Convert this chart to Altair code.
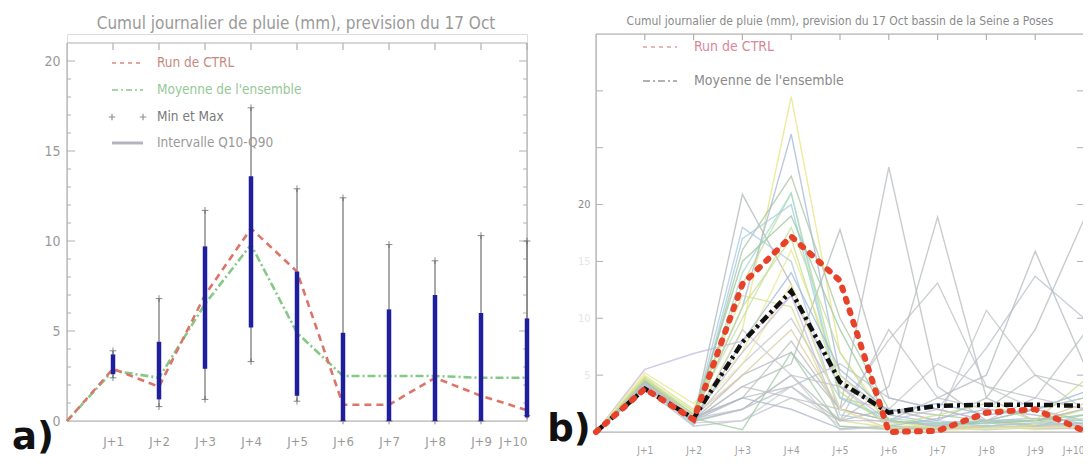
import json
import altair as alt
import pandas as pd

# ---------------- panel a) data ----------------
a_days = [0, 1, 2, 3, 4, 5, 6, 7, 8, 9, 10]
a_ctrl = [0, 2.9, 1.9, 7.0, 10.7, 8.3, 0.9, 0.9, 2.4, 1.4, 0.6]
a_mean = [0, 2.8, 2.4, 6.5, 9.8, 4.9, 2.5, 2.5, 2.5, 2.4, 2.4]
a_bar_days = [1, 2, 3, 4, 5, 6, 7, 8, 9, 10]
a_min = [2.4, 0.8, 1.2, 3.3, 1.1, 0.0, 0.0, 0.0, 0.0, 0.3]
a_max = [3.9, 6.8, 11.7, 17.4, 12.9, 12.4, 9.8, 8.9, 10.3, 10.0]
a_q10 = [2.6, 1.2, 2.9, 5.2, 1.4, 0.0, 0.0, 0.0, 0.0, 0.2]
a_q90 = [3.7, 4.4, 9.7, 13.6, 8.3, 4.9, 6.2, 7.0, 6.0, 5.7]
tick_labels = ["J+1", "J+2", "J+3", "J+4", "J+5", "J+6", "J+7", "J+8", "J+9", "J+10"]
a_title = "Cumul journalier de pluie (mm), prevision du 17 Oct"
a_legend = ["Run de CTRL", "Moyenne de l'ensemble", "Min et Max", "Intervalle Q10-Q90"]

# ---------------- panel b) data ----------------
b_days = [0, 1, 2, 3, 4, 5, 6, 7, 8, 9, 10]
b_ctrl = [0, 3.8, 1.1, 13.0, 17.2, 13.3, 0.0, 0.1, 1.7, 2.0, 0.1]
b_mean = [0, 3.8, 1.2, 7.9, 12.4, 4.4, 1.7, 2.3, 2.4, 2.4, 2.3]
b_members = [
    [0, 4.6, 1.0, 9.0, 29.5, 7.0, 1.0, 0.3, 0.8, 0.5, 0.4],
    [0, 4.2, 1.3, 11.0, 26.2, 5.0, 1.5, 0.8, 1.0, 1.2, 1.0],
    [0, 4.0, 1.1, 20.9, 13.0, 2.0, 1.0, 0.5, 1.0, 0.6, 0.8],
    [0, 4.4, 0.8, 16.0, 22.5, 10.0, 2.0, 1.5, 1.0, 1.0, 2.0],
    [0, 4.8, 1.5, 13.0, 21.0, 4.0, 0.5, 0.5, 0.4, 0.5, 0.6],
    [0, 4.1, 0.6, 17.0, 20.0, 3.0, 1.0, 0.6, 0.8, 0.5, 1.5],
    [0, 3.9, 1.0, 4.0, 6.0, 17.8, 3.0, 2.0, 1.0, 2.0, 1.0],
    [0, 4.3, 1.2, 3.0, 8.0, 2.0, 23.3, 4.0, 1.0, 1.0, 0.5],
    [0, 4.0, 0.9, 2.0, 5.0, 1.0, 4.0, 18.9, 3.0, 1.0, 2.0],
    [0, 4.2, 1.0, 5.0, 7.0, 2.0, 1.0, 3.0, 5.0, 15.9, 6.0],
    [0, 4.5, 1.3, 3.0, 4.0, 1.0, 2.0, 1.0, 3.0, 9.0, 18.7],
    [0, 3.8, 0.5, 1.0, 3.0, 2.0, 8.1, 13.1, 4.0, 3.0, 8.6],
    [0, 4.1, 1.1, 6.0, 10.0, 3.0, 2.0, 1.0, 10.7, 5.0, 2.0],
    [0, 4.0, 1.0, 2.0, 4.0, 6.0, 3.0, 2.0, 7.4, 13.7, 10.0],
    [0, 5.5, 6.9, 8.0, 12.0, 4.0, 1.0, 0.5, 1.0, 0.5, 0.5],
    [0, 5.2, 2.5, 7.0, 16.0, 5.0, 1.0, 0.3, 0.6, 0.2, 0.4],
    [0, 4.7, 1.8, 10.0, 18.0, 7.0, 0.5, 0.3, 0.5, 0.8, 1.2],
    [0, 4.3, 0.7, 14.0, 21.0, 3.0, 1.2, 0.8, 1.0, 1.0, 1.0],
    [0, 4.6, 1.4, 5.0, 9.0, 2.0, 0.3, 0.2, 0.5, 1.0, 2.5],
    [0, 3.7, 0.8, 1.0, 4.0, 0.5, 0.2, 0.4, 0.6, 0.3, 0.3],
    [0, 4.0, 1.0, 3.0, 2.0, 0.3, 0.5, 1.2, 2.0, 1.5, 0.7],
    [0, 4.4, 1.2, 0.2, 7.0, 0.5, 0.3, 0.3, 1.0, 2.0, 3.0],
    [0, 4.9, 2.0, 12.0, 11.0, 1.0, 0.4, 0.4, 0.3, 0.6, 2.0],
    [0, 4.1, 0.9, 9.0, 5.0, 0.2, 0.5, 0.3, 0.2, 0.4, 0.3],
    [0, 4.3, 1.1, 18.0, 15.0, 1.5, 0.8, 1.0, 0.5, 0.8, 0.6],
    [0, 4.5, 1.6, 15.0, 19.0, 9.0, 1.0, 0.7, 0.8, 1.0, 1.5],
    [0, 4.0, 1.0, 4.0, 3.0, 1.0, 9.0, 3.0, 2.0, 5.0, 4.0],
    [0, 4.2, 1.2, 2.0, 5.0, 4.0, 2.0, 6.0, 4.0, 2.0, 3.0],
    [0, 5.0, 1.9, 6.0, 13.0, 2.0, 0.2, 0.1, 0.3, 0.4, 0.5],
    [0, 4.3, 1.3, 7.0, 12.0, 1.0, 1.0, 2.0, 1.0, 3.0, 2.0],
    [0, 4.6, 1.5, 11.0, 17.0, 3.5, 0.6, 1.5, 2.5, 1.0, 4.5],
    [0, 4.0, 0.9, 8.0, 14.0, 5.5, 1.8, 2.5, 1.5, 2.0, 3.5],
]
member_colors = [
    "#e6e47e", "#9fb6d6", "#b0b6b8", "#a9c4a4", "#bcdb98", "#a3cadf",
    "#b3b8ba", "#b6bbbd", "#b8bcbe", "#b3b8bc", "#b5b9bb", "#bcc0c2",
    "#c0c4c6", "#b4bfcc", "#c4b6dc", "#e8e88e", "#c2de9e", "#a2d8d4",
    "#dccaa0", "#c8ccce", "#aab6ca", "#9ecba4", "#d4e08a", "#c6c9cb",
    "#a8c8e0", "#96c89e", "#bcc0c4", "#c0c3c5", "#eee8a0", "#c4bcd4",
    "#c8de8c", "#9cb8d8",
]
b_title = "Cumul journalier de pluie (mm), prevision du 17 Oct bassin de la Seine a Poses"
b_legend = ["Run de CTRL", "Moyenne de l'ensemble"]

NARROW = "Liberation Sans Narrow, DejaVu Sans Condensed, Roboto Condensed, sans-serif"
label_expr = json.dumps(tick_labels) + "[datum.value - 1]"

# ---------------- panel a) ----------------
WA, HA = 460, 387
sxa = alt.Scale(domain=[0, 10], nice=False, zero=False)
sya = alt.Scale(domain=[0, 21.5], nice=False, zero=True)
axa = alt.Axis(values=a_bar_days, labelExpr=label_expr, ticks=False, tickSize=0, domain=False,
               grid=False, labelFont=NARROW, labelFontSize=13, labelColor="#9a9a9a",
               labelPadding=14, title=None)
aya = alt.Axis(values=[0, 5, 10, 15, 20], ticks=False, tickSize=0, domain=False, grid=False,
               labelFont=NARROW, labelFontSize=14, labelColor="#9a9a9a", labelPadding=7, title=None)


def XA(f):
    return alt.X(f, type="quantitative", scale=sxa, axis=axa)


def YA(f):
    return alt.Y(f, type="quantitative", scale=sya, axis=aya)


lines_a = pd.DataFrame({"x": a_days, "ctrl": a_ctrl, "mean": a_mean})
bars_a = pd.DataFrame({"x": a_bar_days, "mn": a_min, "mx": a_max, "q10": a_q10, "q90": a_q90})

frame_col = "#b0b0b0"
fa_h = pd.DataFrame({"x": [0, 0], "x2": [10, 10], "y": [0, 21]})
fa_v = pd.DataFrame({"x": [0, 10], "y": [0, 0], "y2": [21, 21]})
a_minor = [1, 2, 3, 4, 6, 7, 8, 9, 11, 12, 13, 14, 16, 17, 18, 19]
a_major = [5, 10, 15, 20]

layers_a = [
    alt.Chart(fa_h).mark_rule(color=frame_col, strokeWidth=1.2).encode(
        x=XA("x"), x2="x2", y=YA("y")),
    alt.Chart(fa_v).mark_rule(color=frame_col, strokeWidth=1.2).encode(
        x=XA("x"), y=YA("y"), y2="y2"),
    alt.Chart(pd.DataFrame({"x": a_bar_days, "y": [21] * 10})).mark_rule(
        color=frame_col, strokeWidth=1.2).encode(x=XA("x"), y=YA("y"), y2=alt.value(16)),
    alt.Chart(pd.DataFrame({"y": a_minor})).mark_rule(color=frame_col).encode(
        y=YA("y"), x=alt.value(0), x2=alt.value(4)),
    alt.Chart(pd.DataFrame({"y": a_major})).mark_rule(color=frame_col).encode(
        y=YA("y"), x=alt.value(0), x2=alt.value(8)),
    alt.Chart(pd.DataFrame({"y": a_minor})).mark_rule(color=frame_col).encode(
        y=YA("y"), x=alt.value(WA - 4), x2=alt.value(WA)),
    alt.Chart(pd.DataFrame({"y": a_major})).mark_rule(color=frame_col).encode(
        y=YA("y"), x=alt.value(WA - 8), x2=alt.value(WA)),
    # min / max whiskers
    alt.Chart(bars_a).mark_rule(color="#555555", strokeWidth=1).encode(
        x=XA("x"), y=YA("mn"), y2="mx"),
    alt.Chart(bars_a).transform_fold(["mn", "mx"], as_=["k", "v"]).mark_point(
        shape="M -1 0 L 1 0 M 0 -1 L 0 1", filled=False, size=45, color="#555555",
        strokeWidth=1).encode(x=XA("x"), y=YA("v:Q")),
    # lines
    alt.Chart(lines_a).mark_line(color="#86c986", strokeWidth=2.6,
                                 strokeDash=[8, 3, 2, 3]).encode(x=XA("x"), y=YA("mean")),
    alt.Chart(lines_a).mark_line(color="#de7468", strokeWidth=2.6,
                                 strokeDash=[7, 5]).encode(x=XA("x"), y=YA("ctrl")),
    # Q10-Q90 bars
    alt.Chart(bars_a).mark_rule(color="#1f1f9e", strokeWidth=4.5).encode(
        x=XA("x"), y=YA("q10"), y2="q90"),
]

# legend a
leg_y = [29, 56, 83, 109]
leg_col = ["#c48a80", "#96c896", "#7a7a7a", "#9a9a9a"]
one = pd.DataFrame({"k": [0]})
layers_a += [
    alt.Chart(one).mark_rule(color="#e6a59c", strokeWidth=2, strokeDash=[4, 4]).encode(
        x=alt.value(45), x2=alt.value(76), y=alt.value(leg_y[0])),
    alt.Chart(one).mark_rule(color="#a8d4a8", strokeWidth=2, strokeDash=[6, 3, 2, 3]).encode(
        x=alt.value(45), x2=alt.value(76), y=alt.value(leg_y[1])),
    alt.Chart(pd.DataFrame({"px": [45, 76]})).mark_point(
        shape="M -1 0 L 1 0 M 0 -1 L 0 1", filled=False, size=45, color="#666666",
        strokeWidth=1.2).encode(x=alt.X("px:Q", scale=None), y=alt.value(leg_y[2])),
    alt.Chart(one).mark_rule(color="#b4b4c0", strokeWidth=3).encode(
        x=alt.value(45), x2=alt.value(76), y=alt.value(leg_y[3])),
]
for lab, yy, cc in zip(a_legend, leg_y, leg_col):
    layers_a.append(
        alt.Chart(pd.DataFrame({"t": [lab]})).mark_text(
            align="left", baseline="middle", font=NARROW, fontSize=13.5, color=cc).encode(
            text="t:N", x=alt.value(90), y=alt.value(yy)))

layers_a += [
    alt.Chart(pd.DataFrame({"t": [a_title]})).mark_text(
        align="center", baseline="middle", font=NARROW, fontSize=17, color="#9a9a9a").encode(
        text="t:N", x=alt.value(229), y=alt.value(-10)),
    alt.Chart(pd.DataFrame({"t": ["a)"]})).mark_text(
        align="center", baseline="middle", font="DejaVu Sans", fontSize=37,
        fontWeight="bold", color="#111111").encode(
        text="t:N", x=alt.value(-34), y=alt.value(404)),
]

panel_a = alt.layer(*layers_a).properties(width=WA, height=HA)

# ---------------- panel b) ----------------
WB, HB = 488, 398
sxb = alt.Scale(domain=[0, 10], nice=False, zero=False)
syb = alt.Scale(domain=[0, 35], nice=False, zero=True)
axb = alt.Axis(values=a_bar_days, labelExpr=label_expr, ticks=False, tickSize=0, domain=False,
               grid=False, labelFont=NARROW, labelFontSize=10, labelColor="#a0a0a0",
               labelPadding=13, title=None)
ayb = alt.Axis(values=[5, 10, 15, 20], ticks=False, tickSize=0, domain=False, grid=False,
               labelFont=NARROW, labelFontSize=11,
               labelColor={"expr": "datum.value == 20 ? '#8a8a8a' : '#e6e6e6'"},
               labelPadding=6, title=None)


def XB(f):
    return alt.X(f, type="quantitative", scale=sxb, axis=axb)


def YB(f):
    return alt.Y(f, type="quantitative", scale=syb, axis=ayb)


rows = []
for i, m in enumerate(b_members):
    for d, v in zip(b_days, m):
        rows.append({"x": d, "y": v, "member": f"m{i:02d}"})
members_df = pd.DataFrame(rows)
lines_b = pd.DataFrame({"x": b_days, "ctrl": b_ctrl, "mean": b_mean})

fb_h = pd.DataFrame({"x": [0, 0], "x2": [10, 10], "y": [0, 35]})
fb_v = pd.DataFrame({"x": [0, 10], "y": [0, 0], "y2": [35, 35]})
b_major = [5, 10, 15, 20, 25, 30]

layers_b = [
    alt.Chart(members_df).mark_line(strokeWidth=1.4, opacity=0.75).encode(
        x=XB("x"), y=YB("y"),
        color=alt.Color("member:N", scale=alt.Scale(
            domain=[f"m{i:02d}" for i in range(len(b_members))], range=member_colors),
            legend=None)),
    alt.Chart(fb_h).mark_rule(color=frame_col, strokeWidth=1.2).encode(
        x=XB("x"), x2="x2", y=YB("y")),
    alt.Chart(fb_v).mark_rule(color=frame_col, strokeWidth=1.2).encode(
        x=XB("x"), y=YB("y"), y2="y2"),
    alt.Chart(pd.DataFrame({"x": a_bar_days, "y": [35] * 10})).mark_rule(
        color=frame_col, strokeWidth=1.2).encode(x=XB("x"), y=YB("y"), y2=alt.value(6)),
    alt.Chart(pd.DataFrame({"y": b_major})).mark_rule(color=frame_col).encode(
        y=YB("y"), x=alt.value(0), x2=alt.value(7)),
    alt.Chart(pd.DataFrame({"y": b_major})).mark_rule(color=frame_col).encode(
        y=YB("y"), x=alt.value(WB - 7), x2=alt.value(WB)),
    alt.Chart(lines_b).mark_line(color="#111111", strokeWidth=4.5,
                                 strokeDash=[9, 4, 3, 4]).encode(x=XB("x"), y=YB("mean")),
    alt.Chart(lines_b).mark_line(color="#e8412a", strokeWidth=6, strokeCap="round",
                                 strokeDash=[3, 9]).encode(x=XB("x"), y=YB("ctrl")),
    # legend b
    alt.Chart(one).mark_rule(color="#e2a0a0", strokeWidth=1.5, strokeDash=[4, 4]).encode(
        x=alt.value(47), x2=alt.value(81), y=alt.value(13)),
    alt.Chart(one).mark_rule(color="#999999", strokeWidth=1.5, strokeDash=[7, 3, 2, 3]).encode(
        x=alt.value(47), x2=alt.value(81), y=alt.value(47)),
    alt.Chart(pd.DataFrame({"t": [b_legend[0]]})).mark_text(
        align="left", baseline="middle", font=NARROW, fontSize=14, color="#d88898").encode(
        text="t:N", x=alt.value(98), y=alt.value(13)),
    alt.Chart(pd.DataFrame({"t": [b_legend[1]]})).mark_text(
        align="left", baseline="middle", font=NARROW, fontSize=14, color="#8a8a8a").encode(
        text="t:N", x=alt.value(98), y=alt.value(47)),
    alt.Chart(pd.DataFrame({"t": [b_title]})).mark_text(
        align="center", baseline="middle", font=NARROW, fontSize=12, color="#8a8a8a").encode(
        text="t:N", x=alt.value(244), y=alt.value(-13)),
    alt.Chart(pd.DataFrame({"t": ["b)"]})).mark_text(
        align="center", baseline="middle", font="DejaVu Sans", fontSize=37,
        fontWeight="bold", color="#111111").encode(
        text="t:N", x=alt.value(-27), y=alt.value(396)),
]

panel_b = alt.layer(*layers_b).properties(width=WB, height=HB)

# autosize "none" gives a zero-sized base for concatenated views, so the
# padding carries the whole canvas size (origin = left/top padding).
chart = alt.hconcat(panel_a, panel_b, spacing=69, bounds="flush").properties(
    autosize=alt.AutoSizeParams(type="none"),
    padding={"left": 59, "top": 26, "right": 1016, "bottom": 427},
).configure_view(stroke=None).configure(background="white")

chart.save("out.html", embed_options={"renderer": "svg", "actions": False})
